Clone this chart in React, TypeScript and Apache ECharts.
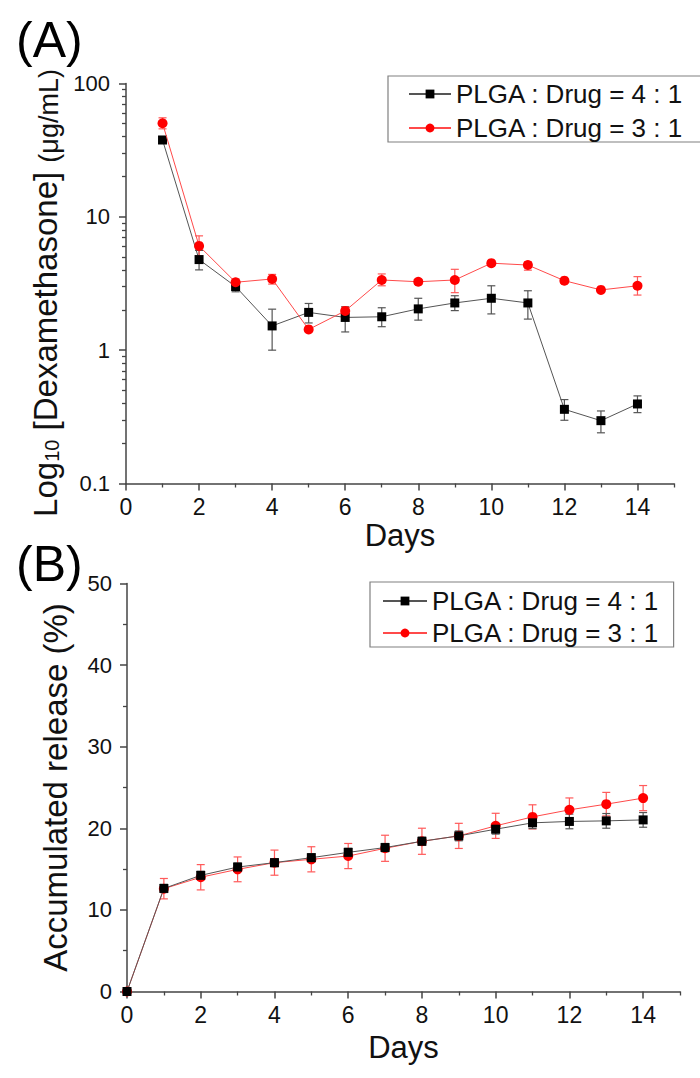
import React, { useEffect, useRef } from 'react';
import * as echarts from 'echarts';

// ---------- Data ----------
const legendNames = ['PLGA : Drug = 4 : 1', 'PLGA : Drug = 3 : 1'];

// Panel A: Log10 [Dexamethasone] (μg/mL)
const daysA = [1, 2, 3, 4, 5, 6, 7, 8, 9, 10, 11, 12, 13, 14];
const concBlack = [37.7, 4.78, 3.0, 1.52, 1.92, 1.76, 1.78, 2.04, 2.26, 2.45, 2.26, 0.36, 0.296, 0.395];
const concBlackLow = [35.5, 4.0, 2.74, 1.0, 1.6, 1.37, 1.5, 1.68, 1.98, 1.87, 1.71, 0.298, 0.24, 0.34];
const concBlackHigh = [40.0, 5.6, 3.2, 2.03, 2.24, 2.12, 2.08, 2.45, 2.56, 3.04, 2.79, 0.426, 0.35, 0.454];
const concRed = [50.3, 6.05, 3.23, 3.42, 1.43, 1.97, 3.36, 3.26, 3.36, 4.49, 4.35, 3.32, 2.83, 3.04];
const concRedLow = [45.7, 5.1, 3.03, 3.13, 1.38, 1.85, 3.04, 3.12, 2.7, 4.3, 3.98, 3.2, 2.74, 2.59];
const concRedHigh = [55.3, 7.2, 3.42, 3.7, 1.48, 2.1, 3.73, 3.4, 4.04, 4.7, 4.61, 3.44, 2.92, 3.56];

// Panel B: Accumulated release (%)
const daysB = [0, 1, 2, 3, 4, 5, 6, 7, 8, 9, 10, 11, 12, 13, 14];
const relBlack = [0, 12.63, 14.23, 15.25, 15.79, 16.4, 17.05, 17.64, 18.41, 19.07, 19.89, 20.67, 20.84, 20.91, 21.03];
const relBlackErr = [0, 0.5, 0.5, 0.5, 0.5, 0.5, 0.5, 0.5, 0.5, 0.6, 0.6, 0.7, 0.9, 0.9, 0.9];
const relRed = [0, 12.6, 14.0, 14.97, 15.79, 16.2, 16.6, 17.55, 18.41, 19.07, 20.3, 21.4, 22.26, 22.96, 23.7];
const relRedErr = [0, 1.25, 1.55, 1.52, 1.54, 1.54, 1.54, 1.6, 1.6, 1.54, 1.54, 1.48, 1.46, 1.44, 1.54];

// Tick values
const xMajorTicks = [0, 2, 4, 6, 8, 10, 12, 14];
const xMinorTicks = [1, 3, 5, 7, 9, 11, 13, 15];
const logMinorTicks = [0.2, 0.3, 0.4, 0.5, 0.6, 0.7, 0.8, 0.9, 2, 3, 4, 5, 6, 7, 8, 9, 20, 30, 40, 50, 60, 70, 80, 90];

const FONT = "'Liberation Sans', Arial, sans-serif";
const AXIS_COLOR = '#444';
const TEXT_COLOR = '#111';
const BLACK_LINE = '#555';
const BLACK_MARK = '#000';
const RED_LINE = '#ff4a4a';
const RED_MARK = '#ff0000';
const RED_ERR = '#ff5a5a';

function errRender(color: string) {
  return (params: any, api: any) => {
    const x = api.value(0);
    const lo = api.value(1);
    const hi = api.value(2);
    const pLo = api.coord([x, lo]);
    const pHi = api.coord([x, hi]);
    const w = 4;
    const style = { stroke: color, lineWidth: 1.2 };
    return {
      type: 'group',
      children: [
        { type: 'line', shape: { x1: pLo[0], y1: pLo[1], x2: pHi[0], y2: pHi[1] }, style },
        { type: 'line', shape: { x1: pHi[0] - w, y1: pHi[1], x2: pHi[0] + w, y2: pHi[1] }, style },
        { type: 'line', shape: { x1: pLo[0] - w, y1: pLo[1], x2: pLo[0] + w, y2: pLo[1] }, style },
      ],
    };
  };
}

function xAxes(gridIndex: number, nameGap: number) {
  return [
    {
      type: 'value',
      gridIndex,
      position: 'bottom',
      min: 0,
      max: 15,
      interval: 1,
      name: 'Days',
      nameLocation: 'middle',
      nameGap,
      nameTextStyle: { fontSize: 31, lineHeight: 31, fontFamily: FONT, color: TEXT_COLOR },
      axisLine: { show: true, onZero: false, lineStyle: { color: AXIS_COLOR, width: 1.5 } },
      axisTick: { show: true, customValues: xMajorTicks, length: 7, lineStyle: { color: AXIS_COLOR, width: 1.5 } },
      axisLabel: {
        customValues: xMajorTicks,
        margin: 14,
        fontSize: 23,
        lineHeight: 18,
        fontFamily: FONT,
        color: TEXT_COLOR,
      },
      splitLine: { show: false },
    },
    {
      type: 'value',
      gridIndex,
      position: 'bottom',
      min: 0,
      max: 15,
      interval: 1,
      axisLine: { show: false, onZero: false },
      axisTick: { show: true, customValues: xMinorTicks, length: 4, lineStyle: { color: AXIS_COLOR, width: 1.3 } },
      axisLabel: { show: false },
      splitLine: { show: false },
    },
  ];
}

export default function App() {
  const ref = useRef<HTMLDivElement>(null);

  useEffect(() => {
    if (!ref.current) return;
    const chart = echarts.init(ref.current, undefined, { renderer: 'svg' });

    const errBlackA = daysA.map((d, i) => [d, concBlackLow[i], concBlackHigh[i]]);
    const errRedA = daysA.map((d, i) => [d, concRedLow[i], concRedHigh[i]]);
    const errBlackB = daysB
      .map((d, i) => [d, relBlack[i] - relBlackErr[i], relBlack[i] + relBlackErr[i]])
      .filter((_, i) => relBlackErr[i] > 0);
    const errRedB = daysB
      .map((d, i) => [d, relRed[i] - relRedErr[i], relRed[i] + relRedErr[i]])
      .filter((_, i) => relRedErr[i] > 0);

    const legendBase = {
      orient: 'vertical',
      itemHeight: 11,
      borderColor: '#808080',
      borderWidth: 1.2,
      borderRadius: 0,
      selectedMode: false,
      data: legendNames,
    };

    const option: any = {
      animation: false,
      backgroundColor: '#fff',
      textStyle: { fontFamily: FONT },
      graphic: [
        {
          type: 'text',
          left: 16,
          top: 15,
          style: { text: '(A)', fontSize: 50, lineHeight: 50, fontFamily: FONT, fill: '#000' },
        },
        {
          type: 'text',
          left: 16,
          top: 539,
          style: { text: '(B)', fontSize: 50, lineHeight: 50, fontFamily: FONT, fill: '#000' },
        },
      ],
      legend: [
        {
          ...legendBase,
          left: 388,
          top: 76,
          itemWidth: 42,
          itemGap: 8,
          padding: [5, 21, 1, 20],
          textStyle: { fontSize: 26, fontFamily: FONT, color: TEXT_COLOR },
        },
        {
          ...legendBase,
          left: 370,
          top: 582,
          itemWidth: 44,
          itemGap: 6,
          padding: [6, 14, 1, 12],
          textStyle: { fontSize: 26, fontFamily: FONT, color: TEXT_COLOR },
        },
      ],
      grid: [
        { left: 126, top: 83.5, width: 548, height: 400 },
        { left: 127, top: 583.5, width: 553, height: 408 },
      ],
      xAxis: [...xAxes(0, 36), ...xAxes(1, 40)],
      yAxis: [
        {
          type: 'log',
          gridIndex: 0,
          logBase: 10,
          min: 0.1,
          max: 100,
          position: 'left',
          name: '{a|Log}{s|10}{a| [Dexamethasone] }{u|(μg/mL)}',
          nameLocation: 'middle',
          nameGap: 49,
          nameRotate: 90,
          nameTextStyle: {
            padding: [0, 19, 0, 0],
            rich: {
              a: { fontSize: 33, lineHeight: 40, verticalAlign: 'bottom', fontFamily: FONT, color: TEXT_COLOR },
              s: { fontSize: 20, lineHeight: 21, verticalAlign: 'bottom', fontFamily: FONT, color: TEXT_COLOR },
              u: { fontSize: 27, lineHeight: 36, verticalAlign: 'bottom', fontFamily: FONT, color: TEXT_COLOR },
            },
          },
          axisLine: { show: true, lineStyle: { color: AXIS_COLOR, width: 1.5 } },
          axisTick: { show: true, length: 7, lineStyle: { color: AXIS_COLOR, width: 1.5 } },
          axisLabel: {
            margin: 16,
            fontSize: 22,
            fontFamily: FONT,
            color: TEXT_COLOR,
            formatter: (v: number) => String(v),
          },
          splitLine: { show: false },
        },
        {
          type: 'log',
          gridIndex: 0,
          logBase: 10,
          min: 0.1,
          max: 100,
          position: 'left',
          axisLine: { show: false },
          axisTick: { show: true, customValues: logMinorTicks, length: 4, lineStyle: { color: AXIS_COLOR, width: 1.3 } },
          axisLabel: { show: false },
          splitLine: { show: false },
        },
        {
          type: 'value',
          gridIndex: 1,
          min: 0,
          max: 50,
          interval: 10,
          position: 'left',
          name: 'Accumulated release (%)',
          nameLocation: 'middle',
          nameGap: 55,
          nameRotate: 90,
          nameTextStyle: { fontSize: 33, lineHeight: 33, fontFamily: FONT, color: TEXT_COLOR },
          axisLine: { show: true, lineStyle: { color: AXIS_COLOR, width: 1.5 } },
          axisTick: { show: true, length: 7, lineStyle: { color: AXIS_COLOR, width: 1.5 } },
          minorTick: { show: true, splitNumber: 2, length: 4, lineStyle: { color: AXIS_COLOR, width: 1.3 } },
          axisLabel: { margin: 15, fontSize: 22, fontFamily: FONT, color: TEXT_COLOR },
          splitLine: { show: false },
        },
      ],
      series: [
        // Panel A
        {
          type: 'custom',
          name: 'errA4',
          xAxisIndex: 0,
          yAxisIndex: 0,
          renderItem: errRender(BLACK_LINE),
          data: errBlackA,
          z: 1,
        },
        {
          type: 'custom',
          name: 'errA3',
          xAxisIndex: 0,
          yAxisIndex: 0,
          renderItem: errRender(RED_ERR),
          data: errRedA,
          z: 1,
        },
        {
          type: 'line',
          name: legendNames[0],
          xAxisIndex: 0,
          yAxisIndex: 0,
          data: daysA.map((d, i) => [d, concBlack[i]]),
          symbol: 'rect',
          symbolSize: 9,
          lineStyle: { color: BLACK_LINE, width: 1 },
          itemStyle: { color: BLACK_MARK },
          z: 3,
        },
        {
          type: 'line',
          name: legendNames[1],
          xAxisIndex: 0,
          yAxisIndex: 0,
          data: daysA.map((d, i) => [d, concRed[i]]),
          symbol: 'circle',
          symbolSize: 10,
          lineStyle: { color: RED_LINE, width: 1 },
          itemStyle: { color: RED_MARK },
          z: 4,
        },
        // Panel B
        {
          type: 'custom',
          name: 'errB3',
          xAxisIndex: 2,
          yAxisIndex: 2,
          renderItem: errRender(RED_ERR),
          data: errRedB,
          z: 1,
        },
        {
          type: 'custom',
          name: 'errB4',
          xAxisIndex: 2,
          yAxisIndex: 2,
          renderItem: errRender(BLACK_LINE),
          data: errBlackB,
          z: 1,
        },
        {
          type: 'line',
          name: legendNames[1],
          xAxisIndex: 2,
          yAxisIndex: 2,
          data: daysB.map((d, i) => [d, relRed[i]]),
          symbol: 'circle',
          symbolSize: 10,
          lineStyle: { color: RED_LINE, width: 1 },
          itemStyle: { color: RED_MARK },
          z: 3,
        },
        {
          type: 'line',
          name: legendNames[0],
          xAxisIndex: 2,
          yAxisIndex: 2,
          data: daysB.map((d, i) => [d, relBlack[i]]),
          symbol: 'rect',
          symbolSize: 9,
          lineStyle: { color: BLACK_LINE, width: 1 },
          itemStyle: { color: BLACK_MARK },
          z: 4,
        },
      ],
    };

    chart.setOption(option);
    return () => {
      chart.dispose();
    };
  }, []);

  return (
    <div
      ref={ref}
      style={{ position: 'absolute', left: 0, top: 0, width: 700, height: 1078, background: '#fff' }}
    />
  );
}
